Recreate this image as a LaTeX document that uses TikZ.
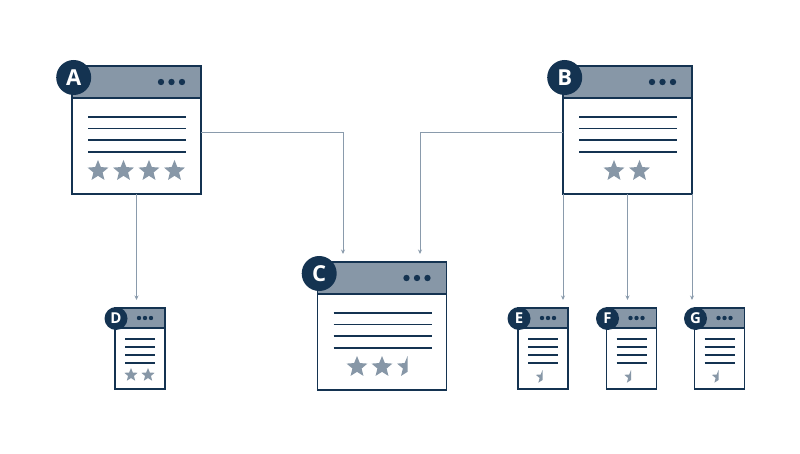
\documentclass[tikz,border=0pt]{standalone}
\usepackage{fontspec}
\newfontfamily\badgefont{Open Sans}
\usetikzlibrary{arrows.meta,calc}
\definecolor{navy}{HTML}{143351}
\definecolor{hdr}{HTML}{8797A7}
\definecolor{conn}{HTML}{8A9BAC}
\definecolor{starc}{HTML}{8797A7}
\tikzset{
 winbody/.style={rectangle, fill=white, inner sep=0pt, outer sep=0pt, anchor=north west},
 bigwin/.style={winbody, minimum width=129pt, minimum height=128pt},
 smallwin/.style={winbody, minimum width=50pt, minimum height=81pt},
 frame/.style={draw=navy, line width=1.3pt},
 hdrline/.style={navy, line width=1.4pt},
 txtline/.style={navy, line width=1.5pt},
 badge/.style={circle, fill=navy, text=white, inner sep=0pt},
 bigbadge/.style={badge, minimum size=35pt, font=\badgefont\bfseries\fontsize{22}{22}\selectfont},
 smallbadge/.style={badge, minimum size=23pt, font=\badgefont\bfseries\fontsize{15}{15}\selectfont},
 link/.style={draw=conn, line width=0.95pt, -{Stealth[length=4.5pt,width=4pt]}, shorten >=8pt},
}
\newcommand{\mystar}[3]{\begin{scope}[shift={(#1,#2)}]\fill[starc] (-90:#3) -- (-54:{0.44*#3}) -- (-18:#3) -- (18:{0.44*#3}) -- (54:#3) -- (90:{0.44*#3}) -- (126:#3) -- (162:{0.44*#3}) -- (198:#3) -- (234:{0.44*#3}) -- cycle;\end{scope}}
\newcommand{\halfstar}[3]{\begin{scope}\clip (#1-#3-1,#2-#3-1) rectangle (#1,#2+#3+1); \mystar{#1}{#2}{#3}\end{scope}}
\newcommand{\bigwindow}[4]{%
 \node[bigwin] (#1) at (#2,#3) {};
 \fill[hdr] (#1.north west) rectangle ($(#1.north east)+(0,32)$);
 \draw[hdrline] ($(#1.north west)+(0,32)$) -- ($(#1.north east)+(0,32)$);
 \draw[frame] (#1.north west) rectangle (#1.south east);
 \foreach \dx in {89,99.5,110} \fill[navy] ($(#1.north west)+(\dx,16)$) circle (3.2pt);
 \foreach \dy in {51,62.5,74,86} \draw[txtline] ($(#1.north west)+(16,\dy)$) -- ++(98,0);
 \node[bigbadge] (#1badge) at ($(#1.north west)+(1.7,11.5)$) {#4};
}
\newcommand{\smallwindow}[4]{%
 \node[smallwin] (#1) at (#2,#3) {};
 \fill[hdr] (#1.north west) rectangle ($(#1.north east)+(0,20)$);
 \draw[hdrline] ($(#1.north west)+(0,20)$) -- ($(#1.north east)+(0,20)$);
 \draw[frame, line width=1.1pt] (#1.north west) rectangle (#1.south east);
 \foreach \dx in {24,30,36} \fill[navy] ($(#1.north west)+(\dx,10)$) circle (2.2pt);
 \foreach \dy in {31,39,47,55} \draw[txtline, line width=1.2pt] ($(#1.north west)+(10,\dy)$) -- ++(30,0);
 \node[smallbadge] (#1badge) at ($(#1.north west)+(1,10.5)$) {#4};
}
\begin{document}
\begin{tikzpicture}[x=1pt,y=-1pt]
\useasboundingbox (0,0) rectangle (800,454);
\bigwindow{A}{72}{66}{A}
\bigwindow{B}{563}{66}{B}
\bigwindow{C}{317.5}{262}{C}
\smallwindow{D}{115}{308}{D}
\smallwindow{E}{518}{308}{E}
\smallwindow{F}{606.5}{308}{F}
\smallwindow{G}{694.5}{308}{G}
% stars
\foreach \sx in {98,123.5,149,174.5} \mystar{\sx}{171}{11};
\foreach \sx in {614,639.5} \mystar{\sx}{171}{11};
\mystar{357}{367}{11}
\mystar{382}{367}{11}
\halfstar{407.5}{367}{11}
\mystar{131}{375}{7}
\mystar{148}{375}{7}
\halfstar{542.5}{377}{7}
\halfstar{631}{377}{7}
\halfstar{718.5}{377}{7}
% connectors
\draw[link] ([yshift=-2pt]A.east) -| ([xshift=25.5pt]C.north west);
\draw[link] ([yshift=-2pt]B.west) -| ([xshift=-26.5pt]C.north east);
\draw[link] (A.south) -- (A.south |- D.north);
\draw[link] (B.south west) -- (B.south west |- E.north);
\draw[link] (B.south) -- (B.south |- F.north);
\draw[link] (B.south east) -- (B.south east |- G.north);
\end{tikzpicture}
\end{document}
